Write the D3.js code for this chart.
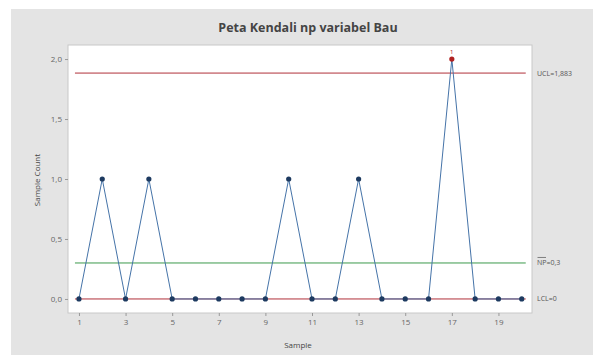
<!DOCTYPE html>
<html>
<head>
<meta charset="utf-8">
<script src="https://cdn.jsdelivr.net/npm/d3@7"></script>
<style>
  html, body { margin: 0; padding: 0; background: #fff; }
  svg { display: block; font-family: 'Open Sans', 'Noto Sans', sans-serif; }
</style>
</head>
<body>
<div id="svg-container"></div>
<script>
const samples = d3.range(1, 21)
const counts = [0, 1, 0, 1, 0, 0, 0, 0, 0, 1, 0, 0, 1, 0, 0, 0, 2, 0, 0, 0]
const ucl = 1.883
const npBar = 0.3
const lcl = 0
const xTicks = [1, 3, 5, 7, 9, 11, 13, 15, 17, 19]
const yTicks = [0, 0.5, 1, 1.5, 2]

const svgWidth = 593
const svgHeight = 358
const marginTop = 45
const marginLeft = 68
const plotRight = 532
const plotBottom = 313
const width = plotRight - marginLeft
const height = plotBottom - marginTop

const svg = d3
  .select('#svg-container')
  .append('svg')
  .attr('width', svgWidth)
  .attr('height', svgHeight)

// grey panel behind everything
svg
  .append('rect')
  .attr('x', 11)
  .attr('y', 9)
  .attr('width', svgWidth - 11)
  .attr('height', 346)
  .attr('fill', '#e4e4e4')

svg
  .append('text')
  .text('Peta Kendali np variabel Bau')
  .attr('x', 308)
  .attr('y', 32)
  .attr('text-anchor', 'middle')
  .style('font-size', '12.5px')
  .style('font-weight', 700)
  .attr('fill', '#444')

const coreChart = svg
  .append('g')
  .attr('transform', `translate(${marginLeft}, ${marginTop})`)

coreChart
  .append('rect')
  .attr('width', width)
  .attr('height', height)
  .attr('fill', '#fff')
  .attr('stroke', '#c8c8c8')
  .attr('stroke-width', 1)

const xScale = d3.scaleLinear().domain([0.53, 20.44]).range([0, width])
const yScale = d3.scaleLinear().domain([-0.117, 2.117]).range([height, 0])

const fmt = d => d3.format('.1f')(d).replace('.', ',')

// x-axis
const xAxis = coreChart
  .append('g')
  .attr('transform', `translate(0, ${height})`)
  .call(d3.axisBottom(xScale).tickValues(xTicks).tickSize(3).tickPadding(3))
xAxis.select('.domain').remove()
xAxis.selectAll('.tick line').attr('stroke', '#999')
xAxis
  .selectAll('.tick text')
  .attr('fill', '#666')
  .style('font-size', '8px')
  .style('font-family', "'Open Sans', sans-serif")

// y-axis
const yAxis = coreChart
  .append('g')
  .call(d3.axisLeft(yScale).tickValues(yTicks).tickFormat(fmt).tickSize(3).tickPadding(3))
yAxis.select('.domain').remove()
yAxis.selectAll('.tick line').attr('stroke', '#999')
yAxis
  .selectAll('.tick text')
  .attr('fill', '#666')
  .style('font-size', '8px')
  .style('font-family', "'Open Sans', sans-serif")

svg
  .append('text')
  .text('Sample')
  .attr('x', 298)
  .attr('y', 348)
  .attr('text-anchor', 'middle')
  .style('font-size', '8px')
  .attr('fill', '#444')

svg
  .append('text')
  .text('Sample Count')
  .attr('transform', `translate(40, 180) rotate(-90)`)
  .attr('text-anchor', 'middle')
  .style('font-size', '8px')
  .attr('fill', '#444')

// control limits
const x0 = xScale(1) - 4
const x1 = xScale(20) + 4
const limits = [
  { v: ucl, color: '#b0303a', label: 'UCL=1,883' },
  { v: npBar, color: '#3c9a4c', label: 'NP=0,3' },
  { v: lcl, color: '#b0303a', label: 'LCL=0' },
]
limits.forEach(l => {
  coreChart
    .append('line')
    .attr('x1', x0)
    .attr('x2', x1)
    .attr('y1', yScale(l.v))
    .attr('y2', yScale(l.v))
    .attr('stroke', l.color)
    .attr('stroke-width', 1)
  svg
    .append('text')
    .text(l.label)
    .attr('x', 537)
    .attr('y', marginTop + yScale(l.v))
    .attr('dy', '0.35em')
    .style('font-size', '7px')
    .attr('fill', '#555')
  if (l.label.startsWith('NP')) {
    // bar over NP
    svg
      .append('line')
      .attr('x1', 537.5)
      .attr('x2', 546)
      .attr('y1', marginTop + yScale(l.v) - 5.5)
      .attr('y2', marginTop + yScale(l.v) - 5.5)
      .attr('stroke', '#555')
      .attr('stroke-width', 0.7)
  }
})

const points = samples.map((s, i) => ({ s, v: counts[i] }))

coreChart
  .append('path')
  .datum(points)
  .attr('d', d3.line().x(d => xScale(d.s)).y(d => yScale(d.v)))
  .attr('fill', 'none')
  .attr('stroke', '#4573a8')
  .attr('stroke-width', 1)

coreChart
  .selectAll('.pt')
  .data(points)
  .join('circle')
  .attr('class', 'pt')
  .attr('cx', d => xScale(d.s))
  .attr('cy', d => yScale(d.v))
  .attr('r', 2.6)
  .attr('fill', d => (d.v > ucl ? '#b02020' : '#1d3a60'))

// test-failure label above out-of-control point
coreChart
  .selectAll('.flag')
  .data(points.filter(d => d.v > ucl))
  .join('text')
  .attr('class', 'flag')
  .attr('x', d => xScale(d.s))
  .attr('y', d => yScale(d.v) - 5)
  .attr('text-anchor', 'middle')
  .style('font-size', '6px')
  .attr('fill', '#b02020')
  .text('1')
</script>
</body>
</html>
